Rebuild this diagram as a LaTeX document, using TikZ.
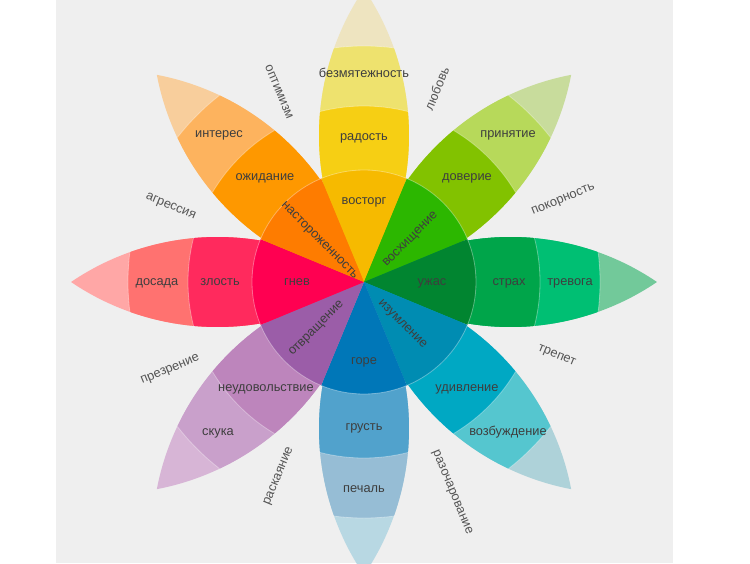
\documentclass[tikz,border=0pt]{standalone}
\usepackage{fontspec}
\setmainfont{Liberation Sans}
\definecolor{bg}{HTML}{EFEFEF}
\definecolor{txt}{HTML}{3E3E3E}
\definecolor{gtxt}{HTML}{555555}
% yellow
\definecolor{y1}{HTML}{F6BA00}\definecolor{y2}{HTML}{F6CF14}\definecolor{y3}{HTML}{EEE26E}\definecolor{y4}{HTML}{EEE4C0}
% light green
\definecolor{g1}{HTML}{2CB700}\definecolor{g2}{HTML}{82C200}\definecolor{g3}{HTML}{B7D95A}\definecolor{g4}{HTML}{C8DC9C}
% green
\definecolor{e1}{HTML}{018530}\definecolor{e2}{HTML}{00A54A}\definecolor{e3}{HTML}{00BF73}\definecolor{e4}{HTML}{72C99A}
% cyan
\definecolor{c1}{HTML}{008CB2}\definecolor{c2}{HTML}{00A8C3}\definecolor{c3}{HTML}{55C6CF}\definecolor{c4}{HTML}{AED2D9}
% blue
\definecolor{b1}{HTML}{0077B8}\definecolor{b2}{HTML}{51A2CC}\definecolor{b3}{HTML}{96BDD5}\definecolor{b4}{HTML}{B8D8E3}
% purple
\definecolor{p1}{HTML}{9B5DA8}\definecolor{p2}{HTML}{BD85BC}\definecolor{p3}{HTML}{C9A0CB}\definecolor{p4}{HTML}{D7B5D6}
% red
\definecolor{r1}{HTML}{FF0051}\definecolor{r2}{HTML}{FF2A5D}\definecolor{r3}{HTML}{FF7270}\definecolor{r4}{HTML}{FFA7A6}
% orange
\definecolor{o1}{HTML}{FE7C00}\definecolor{o2}{HTML}{FE9800}\definecolor{o3}{HTML}{FDB35E}\definecolor{o4}{HTML}{F8CE9C}

\newcommand\flowerpetal[4]{%
  \begin{scope}[rotate=#1]
    \begin{scope}
      \clip (0,0) arc[start angle=124.15, end angle=55.85, radius=260.97]
                  arc[start angle=-55.85, end angle=-124.15, radius=260.97] -- cycle;
      \fill[#4] (0,0) circle (300);
      \fill[#3] (0,0) circle (236);
      \fill[#2] (0,0) circle (176);
      \draw[sep] (0,0) circle (236);
      \draw[sep] (0,0) circle (176);
    \end{scope}
  \end{scope}}
\newcommand\flowerwedge[2]{%
  \fill[#2] (0,0) -- ({#1-22.5}:112) arc[start angle={#1-22.5}, end angle={#1+22.5}, radius=112] -- cycle;}

\begin{document}
\begin{tikzpicture}[x=1pt,y=1pt,
  sep/.style={draw=white, draw opacity=0.35, line width=0.8pt},
  lbl/.style={text=txt, font=\fontsize{12.8}{15}\selectfont, inner sep=0pt, text height=6.6pt, text depth=0pt},
  gaplbl/.style={text=gtxt, font=\fontsize{12.8}{15}\selectfont, inner sep=0pt, text height=6.6pt, text depth=0pt}]
\useasboundingbox (-364,-281) rectangle (386,282);
\clip (-364,-281) rectangle (386,282);
\fill[white] (-364,-281) rectangle (386,282);
\fill[bg] (-308,-281) rectangle (309,282);

% petals
\flowerpetal{90}{y2}{y3}{y4}
\flowerpetal{45}{g2}{g3}{g4}
\flowerpetal{0}{e2}{e3}{e4}
\flowerpetal{-45}{c2}{c3}{c4}
\flowerpetal{-90}{b2}{b3}{b4}
\flowerpetal{-135}{p2}{p3}{p4}
\flowerpetal{180}{r2}{r3}{r4}
\flowerpetal{135}{o2}{o3}{o4}

% inner wedges
\flowerwedge{90}{y1}
\flowerwedge{45}{g1}
\flowerwedge{0}{e1}
\flowerwedge{-45}{c1}
\flowerwedge{-90}{b1}
\flowerwedge{-135}{p1}
\flowerwedge{180}{r1}
\flowerwedge{135}{o1}
\draw[sep] (0,0) circle (112);

% inner labels
\node[lbl] (iJoy) at (0,81) {восторг};
\node[lbl] (iAnger) at (-67,0) {гнев};
\node[lbl] (iTerror) at (68,0) {ужас};
\node[lbl] (iGrief) at (0,-79) {горе};
\node[lbl, rotate=-45] (iVig) at (-44,42) {настороженность};
\node[lbl, rotate=45] (iAdm) at (46,43) {восхищение};
\node[lbl, rotate=45] (iLoath) at (-48,-46) {отвращение};
\node[lbl, rotate=-45] (iAmaz) at (39,-42) {изумление};

% middle labels
\node[lbl] (mJoy) at (0,145) {радость};
\node[lbl] (mAnt) at (-99,105) {ожидание};
\node[lbl] (mTrust) at (103,105) {доверие};
\node[lbl] (mFear) at (145,0) {страх};
\node[lbl] (mSurp) at (103,-106) {удивление};
\node[lbl] (mSad) at (0,-145) {грусть};
\node[lbl] (mDisg) at (-98,-106) {неудовольствие};
\node[lbl] (mAnger) at (-144,0) {злость};

% outer labels
\node[lbl] (oJoy) at (0,208) {безмятежность};
\node[lbl] (oAnt) at (-145,148) {интерес};
\node[lbl] (oTrust) at (144,148) {принятие};
\node[lbl] (oFear) at (206,0) {тревога};
\node[lbl] (oSurp) at (144,-150) {возбуждение};
\node[lbl] (oSad) at (0,-207) {печаль};
\node[lbl] (oDisg) at (-146,-150) {скука};
\node[lbl] (oAnger) at (-207,0) {досада};

% labels between petals
\node[gaplbl, rotate=-67.5] (gOpt) at (-85,190) {оптимизм};
\node[gaplbl, rotate=67.5] (gLove) at (74,193) {любовь};
\node[gaplbl, rotate=22.5] (gSub) at (199,83) {покорность};
\node[gaplbl, rotate=-22.5] (gAwe) at (193,-73) {трепет};
\node[gaplbl, rotate=-67.5] (gDis) at (89,-210) {разочарование};
\node[gaplbl, rotate=67.5] (gRem) at (-86,-194) {раскаяние};
\node[gaplbl, rotate=22.5] (gCon) at (-194,-87) {презрение};
\node[gaplbl, rotate=-22.5] (gAgg) at (-193,76) {агрессия};
\end{tikzpicture}
\end{document}
